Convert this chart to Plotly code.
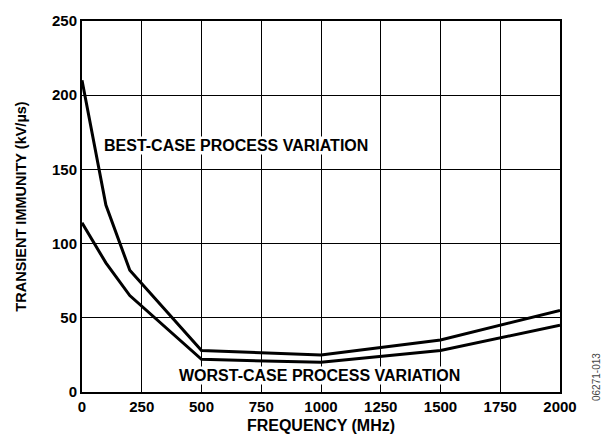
import plotly.graph_objects as go

freq = [0, 100, 200, 500, 1000, 1500, 2000]
best_case = [210, 126, 82, 28, 25, 35, 55]
worst_case = [114, 87, 65, 22, 20, 28, 45]
x_ticks = [0, 250, 500, 750, 1000, 1250, 1500, 1750, 2000]
y_ticks = [0, 50, 100, 150, 200, 250]

FONT = "Arial, Liberation Sans, sans-serif"

fig = go.Figure()
fig.add_trace(go.Scatter(x=freq, y=best_case, mode="lines",
                         line=dict(color="black", width=3), showlegend=False))
fig.add_trace(go.Scatter(x=freq, y=worst_case, mode="lines",
                         line=dict(color="black", width=3), showlegend=False))

fig.add_annotation(x=88, y=166, xref="x", yref="y", xanchor="left",
                   text="<b>BEST-CASE PROCESS VARIATION</b>", showarrow=False,
                   font=dict(family=FONT, size=16, color="black"),
                   bgcolor="white", borderpad=0)
fig.add_annotation(x=995, y=11, xref="x", yref="y", xanchor="center",
                   text="<b>WORST-CASE PROCESS VARIATION</b>", showarrow=False,
                   font=dict(family=FONT, size=16, color="black"),
                   bgcolor="white", borderpad=0)
fig.add_annotation(x=1.075, y=0.04, xref="paper", yref="paper", xanchor="center", yanchor="middle",
                   text="06271-013", showarrow=False, textangle=-90,
                   font=dict(family=FONT, size=10, color="#444444"))

fig.update_layout(
    width=604, height=444,
    margin=dict(l=82, r=44, t=14, b=50),
    paper_bgcolor="white", plot_bgcolor="white",
    font=dict(family=FONT, size=15, color="black"),
)
fig.update_xaxes(range=[0, 2000], tickvals=x_ticks, ticktext=[f"<b>{v}</b>" for v in x_ticks],
                 ticks="", showgrid=True,
                 gridcolor="black", gridwidth=1, showline=True, linecolor="black",
                 linewidth=2, mirror=True, zeroline=False,
                 tickfont=dict(family=FONT, size=15),
                 title=dict(text="<b>FREQUENCY (MHz)</b>", standoff=6,
                            font=dict(family=FONT, size=16)))
fig.update_yaxes(range=[0, 250], tickvals=y_ticks, ticktext=[f"<b>{v}</b>" for v in y_ticks],
                 ticks="", showgrid=True,
                 gridcolor="black", gridwidth=1, showline=True, linecolor="black",
                 linewidth=2, mirror=True, zeroline=False,
                 tickfont=dict(family=FONT, size=15),
                 title=dict(text="<b>TRANSIENT IMMUNITY (kV/µs)</b>", standoff=22,
                            font=dict(family=FONT, size=14.5)))

fig.write_html("out.html", config={"displayModeBar": False},
               post_script="document.body.style.margin='0';")
